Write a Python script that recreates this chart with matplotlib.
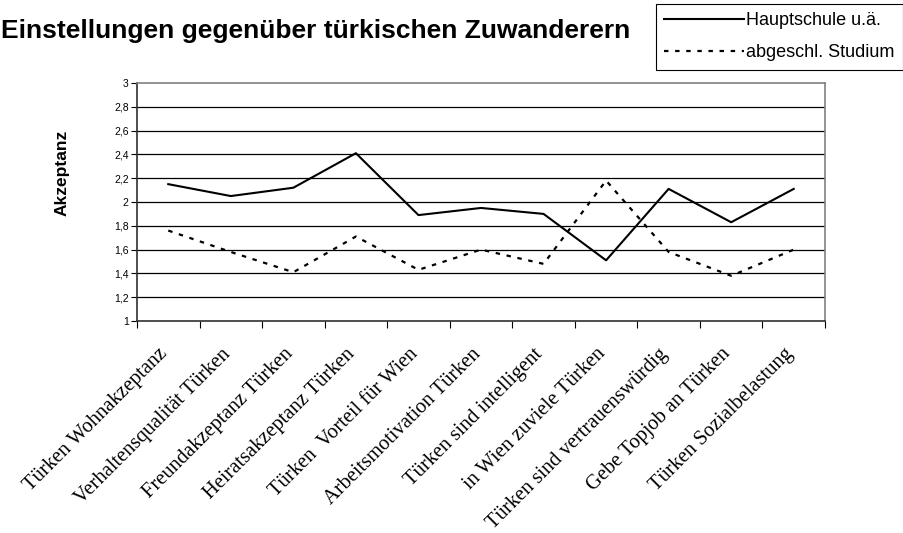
import matplotlib
matplotlib.use("Agg")
import matplotlib.pyplot as plt
import matplotlib.transforms as mtransforms
from matplotlib.ticker import FixedLocator, FuncFormatter

kategorien = ["Türken Wohnakzeptanz", "Verhaltensqualität Türken", "Freundakzeptanz Türken",
              "Heiratsakzeptanz Türken", "Türken  Vorteil für Wien", "Arbeitsmotivation Türken",
              "Türken sind intelligent", "in Wien zuviele Türken", "Türken sind vertrauenswürdig",
              "Gebe Topjob an Türken", "Türken Sozialbelastung"]
hauptschule = [2.15, 2.05, 2.12, 2.41, 1.89, 1.95, 1.90, 1.51, 2.11, 1.83, 2.11]
studium = [1.76, 1.58, 1.41, 1.71, 1.43, 1.60, 1.48, 2.18, 1.58, 1.38, 1.60]
y_ticks = [1, 1.2, 1.4, 1.6, 1.8, 2, 2.2, 2.4, 2.6, 2.8, 3]

fig = plt.figure(figsize=(9.04, 5.33), dpi=100)
ax = fig.add_axes([137/904, 1-321/533, (825-137)/904, (321-83)/533])

x = list(range(len(kategorien)))
l1, = ax.plot(x, hauptschule, color="black", lw=1.5, label="Hauptschule u.ä.")
l2, = ax.plot(x, studium, color="black", lw=1.6, ls=(0, (2, 3)), label="abgeschl. Studium")

ax.set_xlim(-0.5, len(kategorien) - 0.5)
ax.set_ylim(1, 3)

# grid lines
for v in y_ticks[1:-1]:
    ax.axhline(v, color="black", lw=0.9, zorder=0)

ax.yaxis.set_major_locator(FixedLocator(y_ticks))
ax.yaxis.set_major_formatter(FuncFormatter(lambda v, p: ("%g" % v).replace(".", ",")))
ax.tick_params(axis="y", direction="out", length=4, width=0.8, labelsize=7.5, pad=2)
for t in ax.get_yticklabels():
    t.set_family("Liberation Sans")

ax.set_xticks(x)
ax.set_xticklabels(kategorien, rotation=45, ha="right", va="top", rotation_mode="anchor",
                   family="Liberation Serif", fontsize=14.8)
ax.set_xticks([i - 0.5 for i in range(len(kategorien) + 1)], minor=True)
ax.tick_params(axis="x", which="major", length=0, pad=17)
ax.tick_params(axis="x", which="minor", direction="out", length=5, width=0.8)
shift = mtransforms.ScaledTranslation(-10/100, 0, fig.dpi_scale_trans)
for t in ax.get_xticklabels():
    t.set_transform(t.get_transform() + shift)

for s in ["top", "right"]:
    ax.spines[s].set_color("#808080")
    ax.spines[s].set_linewidth(1.2)
for s in ["left", "bottom"]:
    ax.spines[s].set_color("#303030")
    ax.spines[s].set_linewidth(1.2)

fig.text(1/904, 1-38/533, "Einstellungen gegenüber türkischen Zuwanderern",
         fontsize=19, fontweight="bold", family="Liberation Sans", ha="left", va="baseline")
fig.text(62/904, 1-173/533, "Akzeptanz", rotation=90, fontsize=12.5, fontweight="bold",
         family="Liberation Sans", ha="center", va="center")

leg = fig.legend(handles=[l1, l2], loc="upper right", bbox_to_anchor=(903/904, 1-4/533),
                 frameon=True, fancybox=False, edgecolor="black", framealpha=1,
                 prop={"family": "Liberation Sans", "size": 13}, handlelength=4.4,
                 handletextpad=0.15, labelspacing=0.85, borderpad=0.45, borderaxespad=0)
leg.get_frame().set_linewidth(0.8)

fig.savefig("out.png", dpi=100)
